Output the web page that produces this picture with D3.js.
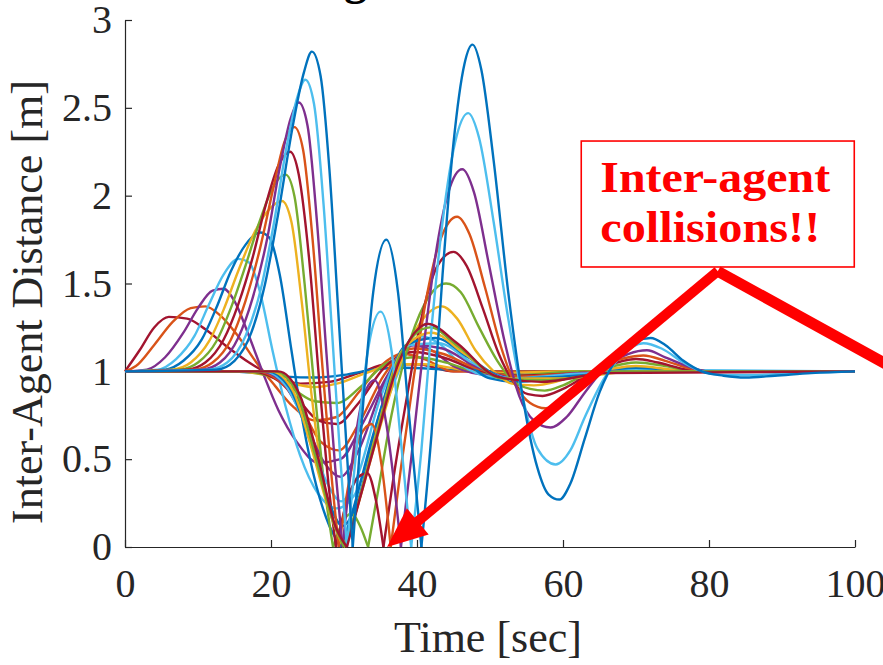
<!DOCTYPE html>
<html>
<head>
<meta charset="utf-8">
<script src="https://cdn.jsdelivr.net/npm/d3@7"></script>
<style>
  body { margin: 0; background: #fff; }
  svg { display: block; }
  .axis text { font-family: "Times New Roman", "Liberation Serif", serif; font-size: 40px; fill: #262626; }
  .axis path, .axis line { stroke: #262626; stroke-width: 1.2; }
</style>
</head>
<body>
<svg width="883" height="665"></svg>
<script>
var xTicks = [0, 20, 40, 60, 80, 100];
var yTicks = [0, 0.5, 1, 1.5, 2, 2.5, 3];

var palette = {
    blue: "#0072BD", orange: "#D95319", yellow: "#EDB120", purple: "#7E2F8E",
    green: "#77AC30", lightblue: "#4DBEEE", darkred: "#A2142F"
};

// curves that first swell above 1 (smallest first), as [time, distance]
var upperCurves = [
    [[0,1],[2,1.12],[4,1.25],[6,1.31],[8.5,1.3],[11,1.24],[14,1.14],[17,1.05],[20,0.98],[24,0.93],[28,0.94],[32,0.99],[36,1.04],[40,1.04],[45,1.0],[100,1]],
    [[0,1],[1.5,1.03],[4,1.15],[6.5,1.28],[9,1.36],[11,1.37],[13,1.32],[15.5,1.2],[18,1.05],[20.5,0.92],[23,0.8],[26,0.72],[29,0.74],[32,0.88],[35,1.03],[38,1.1],[41,1.07],[45,1.0],[100,1]],
    [[0,1],[3,1.01],[5.5,1.08],[8,1.22],[10,1.36],[12,1.46],[13.5,1.47],[15,1.4],[17,1.2],[19,0.98],[21,0.78],[23.5,0.6],[26.5,0.48],[29.5,0.5],[32.5,0.7],[36,0.98],[39,1.15],[42,1.12],[45,1.03],[50,0.98],[58,0.98],[70,1.0],[100,1]],
    [[0,1],[4.5,1.01],[7,1.07],[9.5,1.2],[11.5,1.38],[13.5,1.55],[15.5,1.64],[17,1.62],[18.5,1.45],[20.2,1.12],[22,0.8],[24,0.52],[26.5,0.3],[29,0.22],[31.5,0.3],[34,0.6],[37,0.95],[40.4,1.2],[43,1.16],[46,1.04],[50,0.97],[55,0.96],[60,0.98],[70,1.01],[100,1]],
    [[0,1],[5.5,1.01],[8,1.06],[10.5,1.18],[12.5,1.36],[14.5,1.57],[16.5,1.72],[18.5,1.79],[19.8,1.76],[21.2,1.55],[22.8,1.12],[24.4,0.7],[26.2,0.35],[28,0.12],[29.7,0],[31.5,0.25],[34,0.64],[37.5,1.06],[41.5,1.27],[44,1.2],[47,1.05],[50,0.96],[54,0.94],[58,0.96],[63,0.99],[70,1.02],[78,1],[100,1]],
    [[0,1],[6.5,1.01],[9,1.05],[11.5,1.17],[13.5,1.35],[15.5,1.57],[17.5,1.77],[19.5,1.91],[21.5,1.97],[22.8,1.85],[24.2,1.4],[25.6,0.85],[27,0.42],[28.5,0.15],[30.2,0],[32,0.25],[34.5,0.62],[37.5,1.02],[40.5,1.28],[43.4,1.37],[45.5,1.3],[48,1.12],[50.5,1.0],[53,0.93],[56,0.92],[59,0.94],[62,0.98],[66,1.01],[70,1.03],[75,1.01],[80,1],[100,1]],
    [[0,1],[7.5,1.01],[10,1.05],[12.5,1.17],[14.5,1.36],[16.5,1.6],[18.5,1.86],[20.3,2.05],[22,2.12],[23.2,2.0],[24.6,1.5],[26,0.88],[27.3,0.35],[28.5,0],[29.8,0.14],[31,0.19],[32.2,0.12],[33.3,0],[34.8,0.35],[36.5,0.75],[38.5,1.1],[41,1.38],[44,1.5],[46,1.45],[48.5,1.25],[51,1.06],[53,0.95],[55.5,0.9],[57.5,0.89],[60,0.92],[63,0.98],[66,1.02],[70,1.05],[74,1.03],[78,1],[100,1]],
    [[0,1],[8.5,1.01],[11,1.05],[13.5,1.18],[15.5,1.38],[17.5,1.65],[19.3,1.95],[21,2.17],[22.6,2.25],[23.8,2.12],[25.2,1.65],[26.6,0.95],[27.9,0.35],[28.9,0],[30.4,0.26],[32,0.4],[33.2,0.42],[34.4,0.26],[35.4,0],[36.8,0.4],[38.6,0.85],[40.6,1.3],[42.8,1.6],[45,1.68],[46.8,1.6],[49,1.36],[51.2,1.1],[53.2,0.94],[55.2,0.87],[57.2,0.86],[60,0.9],[63,0.97],[66,1.03],[70,1.07],[73,1.05],[77,1.01],[80,1],[100,1]],
    [[0,1],[9.5,1.01],[12,1.05],[14.5,1.18],[16.5,1.4],[18.5,1.7],[20.3,2.04],[21.8,2.3],[23.2,2.39],[24.4,2.26],[25.7,1.75],[27,1.05],[28.3,0.4],[29.3,0],[30.6,0.35],[32.2,0.63],[33.8,0.7],[35.2,0.45],[36.4,0],[37.8,0.45],[39.5,0.95],[41.3,1.42],[43.3,1.76],[45.5,1.88],[47.2,1.78],[49.3,1.48],[51.5,1.14],[53.5,0.92],[55.5,0.82],[57.6,0.79],[60,0.84],[63,0.95],[66,1.04],[69,1.08],[71,1.09],[74,1.06],[77,1.02],[80,1],[100,1]],
    [[0,1],[10.5,1.01],[13,1.05],[15.5,1.19],[17.5,1.42],[19.5,1.76],[21.2,2.16],[22.7,2.44],[23.8,2.53],[25,2.4],[26.3,1.85],[27.6,1.1],[28.8,0.45],[29.8,0],[31,0.45],[32.6,0.85],[34.2,0.95],[35.8,0.7],[36.9,0.35],[37.8,0],[39.2,0.5],[40.8,1.1],[42.5,1.65],[44.3,2.02],[46.2,2.15],[47.8,2.02],[49.8,1.62],[52,1.17],[54,0.86],[56,0.72],[58.3,0.68],[60.5,0.74],[63,0.88],[66,1.03],[69,1.1],[71.5,1.12],[74,1.08],[77,1.03],[80,1],[100,1]],
    [[0,1],[11.5,1.01],[14,1.05],[16.5,1.2],[18.5,1.45],[20.3,1.82],[22.1,2.27],[23.6,2.56],[24.7,2.66],[25.9,2.52],[27.2,1.95],[28.4,1.2],[29.5,0.5],[30.4,0],[31.8,0.6],[33.4,1.15],[35,1.34],[36.5,1.12],[37.8,0.6],[39.2,0],[40.6,0.55],[42,1.25],[43.5,1.85],[45.2,2.3],[47,2.47],[48.5,2.33],[50.5,1.85],[52.5,1.3],[54.5,0.85],[56.5,0.56],[59,0.47],[61,0.55],[63,0.74],[65.5,0.95],[68,1.09],[71,1.16],[73.5,1.13],[76.5,1.05],[79,1.0],[82,0.98],[86,0.98],[92,0.99],[100,1]],
    [[0,1],[12.5,1.01],[15,1.06],[17.3,1.22],[19.2,1.5],[21,1.9],[23,2.4],[24.5,2.7],[25.6,2.82],[26.8,2.68],[28,2.15],[29.2,1.35],[30.3,0.6],[31.2,0],[32.5,0.75],[34,1.45],[35.8,1.75],[37.4,1.45],[38.8,0.8],[40.6,0],[42,0.65],[43.5,1.55],[45,2.3],[46.5,2.75],[47.6,2.86],[48.8,2.72],[50.5,2.2],[52.5,1.45],[54.5,0.85],[56.5,0.45],[58,0.3],[59.5,0.27],[61,0.36],[63,0.62],[65,0.88],[67.5,1.08],[70,1.17],[72,1.19],[74,1.15],[76.5,1.06],[79,1],[82,0.975],[85,0.965],[89,0.975],[94,0.99],[100,1]]
];
var upperColors = ["darkred", "orange", "purple", "lightblue", "blue", "yellow", "green", "darkred", "orange", "purple", "lightblue", "blue"];

// curves that first sag below 1 (smallest first)
var lowerCurves = [
    [[0,1],[14,1],[18,0.99],[22,0.97],[26,0.965],[30,0.98],[34,1.01],[38,1.02],[44,1.01],[50,1.0],[100,1]],
    [[0,1],[15,1],[19,0.98],[23,0.93],[26,0.91],[29,0.93],[33,0.99],[37,1.04],[41,1.04],[46,1.01],[52,0.99],[60,1],[100,1]],
    [[0,1],[16,1],[20,0.97],[23,0.9],[26,0.83],[29,0.82],[32.5,0.92],[36,1.05],[40,1.08],[44,1.05],[48,1.0],[54,0.98],[62,1],[100,1]],
    [[0,1],[17,1],[20.5,0.96],[23.5,0.85],[26.5,0.72],[29,0.7],[32,0.82],[35.5,1.02],[39.5,1.11],[43.5,1.08],[48,1.01],[54,0.975],[62,0.99],[70,1],[100,1]],
    [[0,1],[18,1],[21,0.95],[24,0.8],[26.8,0.6],[29.3,0.55],[32,0.7],[35.5,0.98],[39.5,1.13],[43.5,1.1],[48,1.02],[54,0.97],[62,0.99],[70,1],[100,1]],
    [[0,1],[18.5,1],[21.5,0.94],[24.5,0.73],[27,0.5],[29.5,0.4],[32,0.55],[35.5,0.93],[39.5,1.15],[43.5,1.13],[48,1.03],[54,0.96],[62,0.99],[70,1],[100,1]],
    [[0,1],[19,1],[22,0.92],[25,0.66],[27.5,0.38],[29.6,0.26],[31.8,0.4],[35,0.85],[39,1.15],[43,1.16],[47.5,1.05],[53,0.96],[60,0.98],[70,1],[100,1]],
    [[0,1],[19.5,1],[22.5,0.91],[25.2,0.62],[27.7,0.28],[29.8,0.12],[31.8,0.25],[34.8,0.75],[38.5,1.15],[42.5,1.19],[47,1.08],[52.5,0.96],[60,0.97],[70,1],[100,1]],
    [[0,1],[20,1],[23,0.89],[25.5,0.57],[28,0.2],[29.9,0],[31.6,0.2],[34.5,0.66],[38,1.12],[42,1.22],[46.5,1.1],[52,0.96],[60,0.96],[70,1],[100,1]],
    [[0,1],[20.5,1],[23.5,0.88],[26,0.53],[28.3,0.17],[30,0],[31.6,0.2],[34.2,0.6],[37.8,1.1],[41.8,1.25],[46,1.13],[51.5,0.96],[58,0.95],[68,1],[100,1]],
    [[0,1],[21,1],[24,0.86],[26.5,0.5],[28.8,0.12],[30.4,0],[32,0.25],[34,0.55],[37.5,1.05],[41.5,1.27],[45.5,1.16],[51,0.97],[57,0.94],[66,0.99],[100,1]]
];
var lowerColors = ["blue", "yellow", "green", "darkred", "orange", "purple", "lightblue", "blue", "yellow", "green", "darkred"];

// annotation, in data units
var calloutBox = {x0: 62.5, x1: 99.9, y0: 2.311, y1: 1.594};
var calloutLines = ["Inter-agent", "collisions!!"];
var calloutText = {x: 65.1, y: [2.021, 1.736]};
var arrowApex = [81.2, 1.57];
var arrowTip = [35.9, 0.0];
var arrowTail = [106.5, 0.99];

var svg = d3.select("svg"),
    width = +svg.attr("width"),
    height = +svg.attr("height");

var x = d3.scaleLinear().domain([0, 100]).range([125, 855]);
var y = d3.scaleLinear().domain([0, 3]).range([547, 20]);

// title (runs off the top of the picture, only a descender shows)
svg.append("text")
    .attr("x", 367)
    .attr("y", -6)
    .attr("text-anchor", "end")
    .style("font-family", "'Times New Roman', 'Liberation Serif', serif")
    .style("font-weight", "bold")
    .style("font-size", "46px")
    .style("fill", "#000")
    .text("Flocking");

// axes
svg.append("g")
    .attr("class", "axis")
    .attr("transform", "translate(0," + y(0) + ")")
    .call(d3.axisBottom(x)
        .tickValues(xTicks)
        .tickSizeInner(-7)
        .tickSizeOuter(0)
        .tickPadding(22)
        .tickFormat(d3.format("d")));

svg.append("g")
    .attr("class", "axis")
    .attr("transform", "translate(" + x(0) + ",0)")
    .call(d3.axisLeft(y)
        .tickValues(yTicks)
        .tickSizeInner(-7)
        .tickSizeOuter(0)
        .tickPadding(13)
        .tickFormat(d3.format("~g")));

// axis labels
svg.append("text")
    .attr("x", 488)
    .attr("y", 652)
    .attr("text-anchor", "middle")
    .style("font-family", "'Times New Roman', 'Liberation Serif', serif")
    .style("font-size", "44px")
    .style("fill", "#262626")
    .text("Time [sec]");

svg.append("text")
    .attr("transform", "translate(42,302) rotate(-90)")
    .attr("text-anchor", "middle")
    .style("font-family", "'Times New Roman', 'Liberation Serif', serif")
    .style("font-size", "44px")
    .style("fill", "#262626")
    .text("Inter-Agent Distance [m]");

// split a curve where it touches zero so the bounce stays sharp
function pieces(pts) {
    var out = [], cur = [];
    pts.forEach(function(p, i) {
        cur.push(p);
        if (p[1] === 0 && i > 0 && i < pts.length - 1) {
            out.push(cur);
            cur = [p];
        }
    });
    out.push(cur);
    return out;
}

var line = d3.line()
    .x(function(d) { return x(d[0]); })
    .y(function(d) { return y(d[1]); })
    .curve(d3.curveMonotoneX);

// interleave the two families, smallest to largest, so the big blue ends on top
var series = [];
upperCurves.forEach(function(c, i) {
    series.push({pts: c, color: palette[upperColors[i]]});
    if (i < lowerCurves.length) series.push({pts: lowerCurves[i], color: palette[lowerColors[i]]});
});

var plot = svg.append("g");
series.forEach(function(s) {
    plot.selectAll(null)
        .data(pieces(s.pts))
        .enter().append("path")
        .attr("d", line)
        .attr("fill", "none")
        .attr("stroke", s.color)
        .attr("stroke-width", 2.4)
        .attr("stroke-linejoin", "round");
});

// callout
var note = svg.append("g");
note.append("rect")
    .attr("x", x(calloutBox.x0))
    .attr("y", y(calloutBox.y0))
    .attr("width", x(calloutBox.x1) - x(calloutBox.x0))
    .attr("height", y(calloutBox.y1) - y(calloutBox.y0))
    .attr("fill", "#fff")
    .attr("stroke", "#ff0000")
    .attr("stroke-width", 1.6);

note.selectAll(null)
    .data(calloutLines)
    .enter().append("text")
    .attr("x", x(calloutText.x))
    .attr("y", function(d, i) { return y(calloutText.y[i]); })
    .attr("textLength", function(d, i) { return i === 0 ? 230 : 220; })
    .attr("lengthAdjust", "spacingAndGlyphs")
    .style("font-family", "'Liberation Serif', 'Times New Roman', serif")
    .style("font-weight", "bold")
    .style("font-size", "45px")
    .style("fill", "#ff0000")
    .text(function(d) { return d; });

// arrows
var ax = x(arrowApex[0]), ay = y(arrowApex[1]);
var tx = x(arrowTip[0]), ty = y(arrowTip[1]);
var dx = tx - ax, dy = ty - ay, len = Math.sqrt(dx * dx + dy * dy);
var ux = dx / len, uy = dy / len;
var bx = tx - 40 * ux, by = ty - 40 * uy;

note.append("line")
    .attr("x1", ax).attr("y1", ay)
    .attr("x2", bx + 4 * ux).attr("y2", by + 4 * uy)
    .attr("stroke", "#ff0000")
    .attr("stroke-width", 10);

note.append("polygon")
    .attr("points", [
        [tx, ty],
        [bx + 17 * uy, by - 17 * ux],
        [bx - 17 * uy, by + 17 * ux]
    ].map(function(p) { return p.join(","); }).join(" "))
    .attr("fill", "#ff0000");

note.append("line")
    .attr("x1", ax).attr("y1", ay)
    .attr("x2", x(arrowTail[0])).attr("y2", y(arrowTail[1]))
    .attr("stroke", "#ff0000")
    .attr("stroke-width", 11);
</script>
</body>
</html>
